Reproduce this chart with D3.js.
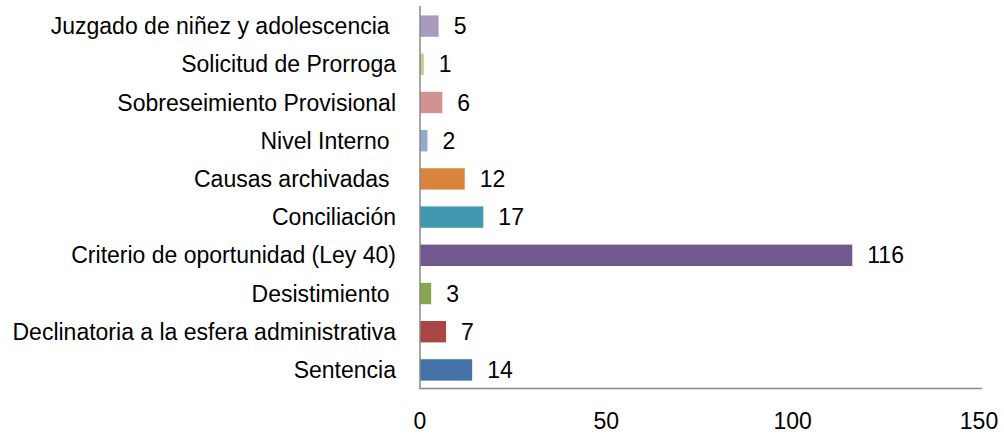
<!DOCTYPE html>
<html><head><meta charset="utf-8">
<script src="https://cdn.jsdelivr.net/npm/d3@7"></script>
<style>body{margin:0;background:#fff}svg{display:block}text{font-family:"Liberation Sans",Arial,sans-serif;fill:#000}</style>
</head><body>
<svg id="c" width="1004" height="434"></svg>
<script>
const categories = ["Sentencia","Declinatoria a la esfera administrativa","Desistimiento ","Criterio de oportunidad (Ley 40)","Conciliación","Causas archivadas ","Nivel Interno ","Sobreseimiento Provisional","Solicitud de Prorroga","Juzgado de niñez y adolescencia "];
const values = [14,7,3,116,17,12,2,6,1,5];
const colors = ["#4572A7","#AA4643","#89A54E","#71588F","#4198AF","#DB843D","#93A9CF","#D19392","#B9CD96","#A99BBD"];
const xTicks = [0,50,100,150];

const FS = "23px";
const svg = d3.select("#c");
const x = d3.scaleLinear().domain([0,150]).range([420,979]);
const y = d3.scaleBand().domain(categories.slice().reverse()).range([7,389]).paddingInner(0.44).paddingOuter(0.22);

svg.selectAll("rect.bar").data(categories).join("rect")
  .attr("x", x(0)).attr("y", d=>y(d)).attr("height", y.bandwidth())
  .attr("width", (d,i)=>x(values[i])-x(0)).attr("fill",(d,i)=>colors[i]);

svg.selectAll("text.val").data(categories).join("text")
  .attr("x",(d,i)=>x(values[i])+15).attr("y",d=>y(d)+y.bandwidth()/2)
  .attr("dy","0.35em").attr("font-size",FS).text((d,i)=>values[i]);

svg.selectAll("text.cat").data(categories).join("text")
  .attr("x",396).attr("y",d=>y(d)+y.bandwidth()/2).attr("dy","0.35em")
  .attr("text-anchor","end").attr("font-size",FS).style("white-space","pre")
  .text(d=>d);

// axes
svg.append("line").attr("x1",420).attr("x2",420).attr("y1",6).attr("y2",389).attr("stroke","#888").attr("stroke-width",1.5);
svg.append("line").attr("x1",419).attr("x2",982).attr("y1",388.5).attr("y2",388.5).attr("stroke","#888").attr("stroke-width",1.5);

svg.selectAll("text.tick").data(xTicks).join("text")
  .attr("x",d=>x(d)).attr("y",421).attr("dy","0.35em").attr("text-anchor","middle")
  .attr("font-size",FS).text(d=>d);
</script>
</body></html>
